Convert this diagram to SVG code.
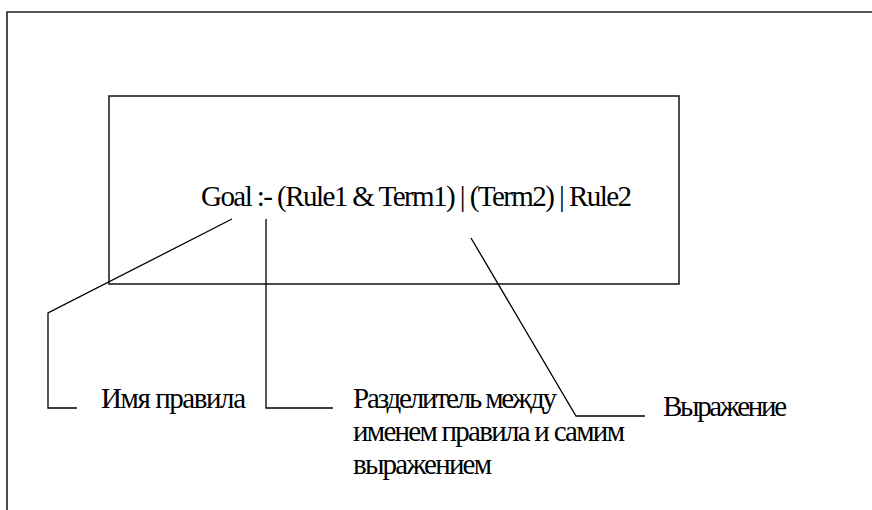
<svg xmlns="http://www.w3.org/2000/svg" width="872" height="510" viewBox="0 0 872 510">
<style>
.frame{fill:none;stroke:#222;stroke-width:1.6}
.ln{fill:none;stroke:#000;stroke-width:1.3}
.t{font-family:'Liberation Serif','Times New Roman',serif;font-size:29px;fill:#000}
</style>
<rect width="872" height="510" fill="#fff"/>
<path class="frame" d="M7,520 V12 H880"/>
<g id="expr-box">
<rect class="frame" x="109" y="96" width="570" height="188"/>
<text class="t" x="201" y="206" textLength="431" lengthAdjust="spacing">Goal :- (Rule1 &amp; Term1) | (Term2) | Rule2</text>
</g>
<g id="label-name">
<text class="t" x="101" y="408" textLength="145" lengthAdjust="spacing">Имя правила</text>
</g>
<g id="label-separator">
<text class="t" x="353" y="408" textLength="204" lengthAdjust="spacing">Разделитель между</text>
<text class="t" x="353" y="441" textLength="272" lengthAdjust="spacing">именем правила и самим</text>
<text class="t" x="353" y="474" textLength="139" lengthAdjust="spacing">выражением</text>
</g>
<g id="label-expression">
<text class="t" x="663" y="416" textLength="124" lengthAdjust="spacing">Выражение</text>
</g>
<g id="connectors">
<polyline class="ln" points="232,219 48,313 48,408 77,408"/>
<polyline class="ln" points="266,219 266,408 333,408"/>
<polyline class="ln" points="471,238 576,416 645,416"/>
</g>
</svg>
